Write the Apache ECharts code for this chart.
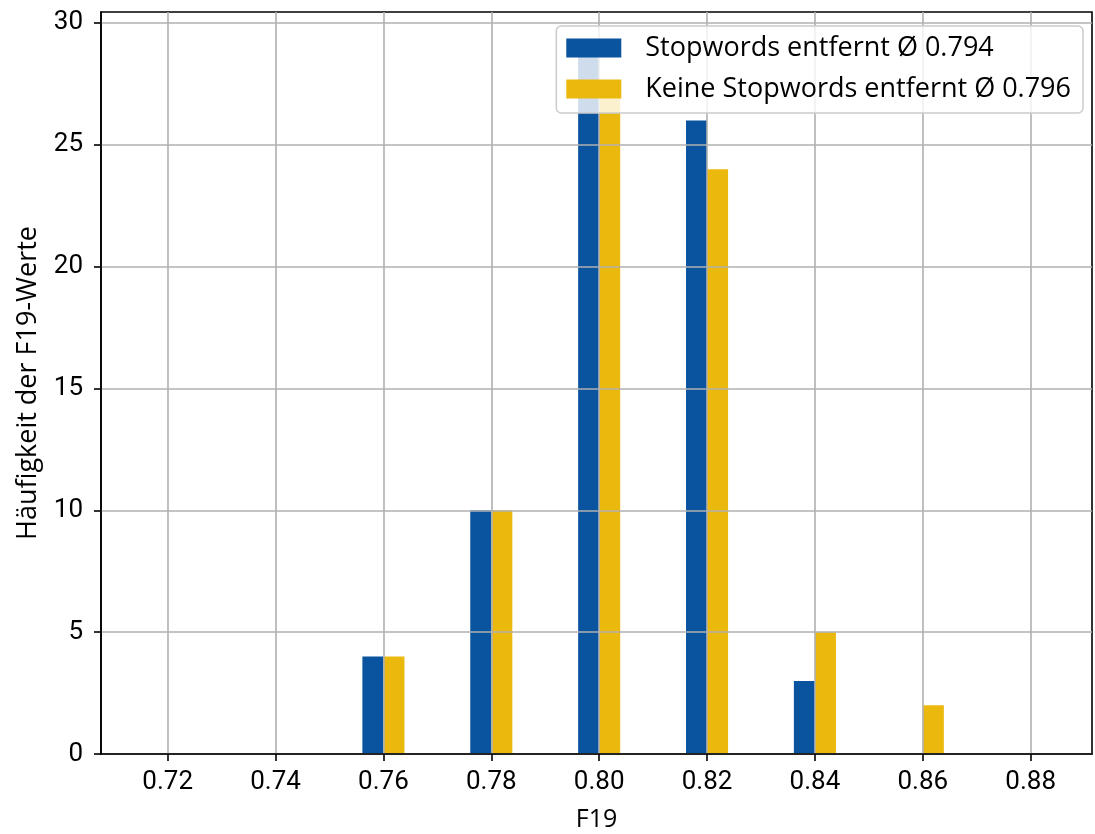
<!DOCTYPE html>
<html>
<head>
<meta charset="utf-8">
<script src="https://cdn.jsdelivr.net/npm/echarts@6/dist/echarts.min.js"></script>
<style>
  html, body { margin: 0; padding: 0; background: #fff; }
  #chart { width: 1095px; height: 834px; }
</style>
</head>
<body>
<div id="chart"></div>
<script>
// Bin centres of the F19 histogram and counts per bin for both preprocessing variants
const binCenters = [0.72, 0.74, 0.76, 0.78, 0.80, 0.82, 0.84, 0.86, 0.88];
const countsStopRemoved = [0, 0, 4, 10, 29, 26, 3, 0, 0];
const countsStopKept = [0, 0, 4, 10, 27, 24, 5, 2, 0];
const seriesNames = ['Stopwords entfernt Ø 0.794', 'Keine Stopwords entfernt Ø 0.796'];
const xTicks = [0.72, 0.74, 0.76, 0.78, 0.80, 0.82, 0.84, 0.86, 0.88];
const yTicks = [0, 5, 10, 15, 20, 25, 30];

const BAR_W = 0.0039;   // bar width in F19 units
const FONT = 'Roboto';
const TEXT_FONT = 'Open Sans';
const BLUE = '#0a539f';
const YELLOW = '#ebb80d';

// side = -1 draws the bar left of the bin centre, +1 draws it right of it
function barRenderer(side) {
  return function (params, api) {
    const x = api.value(0);
    const y = api.value(1);
    const x0 = side < 0 ? x - BAR_W : x;
    const x1 = side < 0 ? x : x + BAR_W;
    const p0 = api.coord([x0, 0]);
    const p1 = api.coord([x1, y]);
    return {
      type: 'rect',
      shape: { x: p0[0], y: p1[1], width: p1[0] - p0[0], height: p0[1] - p1[1] },
      style: { fill: api.visual('color') }
    };
  };
}

const chart = echarts.init(document.getElementById('chart'));
chart.setOption({
  backgroundColor: '#fff',
  animation: false,
  textStyle: { fontFamily: FONT, color: '#000' },
  grid: {
    left: 101, right: 3, top: 12, bottom: 80,
    outerBoundsMode: 'none',
    containLabel: false,
    show: true, borderColor: '#000', borderWidth: 1.6, z: 3
  },
  legend: {
    orient: 'vertical',
    right: 12,
    top: 26,
    itemWidth: 55,
    itemHeight: 19,
    itemGap: 11,
    icon: 'rect',
    padding: [7, 12, 9, 10],
    backgroundColor: 'rgba(255,255,255,0.8)',
    borderColor: '#cccccc',
    borderWidth: 1.5,
    borderRadius: 5,
    textStyle: { fontFamily: TEXT_FONT, fontSize: 27, color: '#000', lineHeight: 30, padding: [0, 0, 0, 19] },
    data: seriesNames
  },
  xAxis: {
    type: 'value',
    min: 0.70764,
    max: 0.89137,
    z: 3,
    name: 'F19',
    nameLocation: 'middle',
    nameGap: 53,
    nameTextStyle: { fontFamily: TEXT_FONT, fontSize: 25, color: '#000' },
    axisLine: { show: true, onZero: false, lineStyle: { color: '#000', width: 1.6 } },
    axisTick: { show: true, length: 7, customValues: xTicks, lineStyle: { color: '#000', width: 1.6 } },
    axisLabel: {
      customValues: xTicks,
      margin: 15,
      fontFamily: FONT, fontSize: 26, color: '#000',
      formatter: v => v.toFixed(2)
    },
    splitLine: { show: true, lineStyle: { color: '#b0b0b0', width: 1.6 } }
  },
  yAxis: {
    type: 'value',
    min: 0,
    max: 30.45,
    z: 3,
    name: 'Häufigkeit der F19-Werte',
    nameLocation: 'middle',
    nameGap: 59,
    nameTextStyle: { fontFamily: TEXT_FONT, fontSize: 27, color: '#000' },
    axisLine: { show: true, lineStyle: { color: '#000', width: 1.6 } },
    axisTick: { show: true, length: 7, customValues: yTicks, lineStyle: { color: '#000', width: 1.6 } },
    axisLabel: {
      customValues: yTicks,
      margin: 18,
      fontFamily: FONT, fontSize: 26, color: '#000'
    },
    splitLine: { show: true, lineStyle: { color: '#b0b0b0', width: 1.6 } }
  },
  series: [
    {
      name: seriesNames[0],
      type: 'custom',
      z: 2,
      itemStyle: { color: BLUE },
      renderItem: barRenderer(-1),
      encode: { x: 0, y: 1 },
      data: binCenters.map((c, i) => [c, countsStopRemoved[i]])
    },
    {
      name: seriesNames[1],
      type: 'custom',
      z: 2,
      itemStyle: { color: YELLOW },
      renderItem: barRenderer(1),
      encode: { x: 0, y: 1 },
      data: binCenters.map((c, i) => [c, countsStopKept[i]])
    }
  ]
});
</script>
</body>
</html>
